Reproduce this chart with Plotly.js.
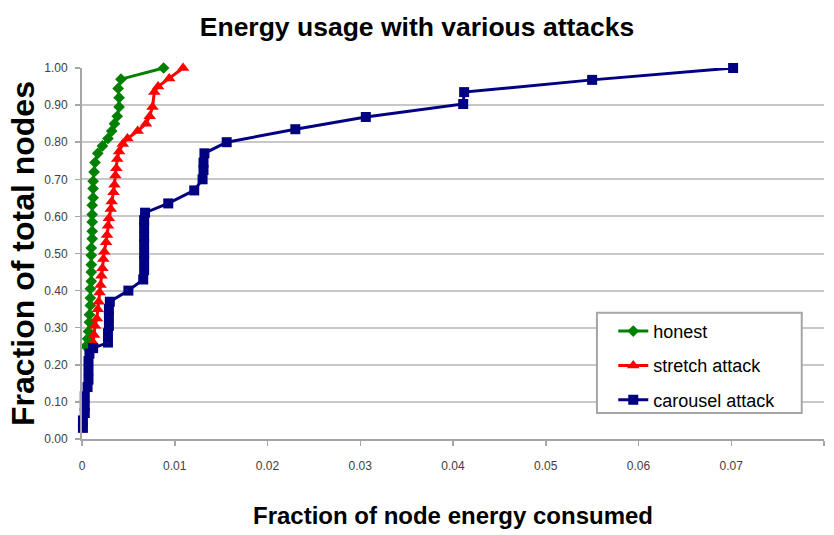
<!DOCTYPE html>
<html>
<head>
<meta charset="utf-8">
<script src="https://cdn.plot.ly/plotly-3.0.1.min.js"></script>
<style>html,body{margin:0;padding:0;background:#fff;}#chart{width:834px;height:535px;}</style>
</head>
<body>
<div id="chart"></div>
<script>
// honest (green diamonds)
var honestX = [0.0004,0.0006,0.0007,0.0008,0.0008,0.0009,0.0009,0.0009,0.0010,0.0010,0.0010,0.0010,0.0010,0.0011,0.0011,0.0011,0.0011,0.0011,0.0012,0.0012,0.0012,0.0013,0.0014,0.0017,0.0022,0.0028,0.0032,0.0035,0.0038,0.0040,0.0040,0.0039,0.0042,0.0088];
var honestY = [0.25,0.27,0.29,0.315,0.335,0.36,0.38,0.405,0.425,0.45,0.47,0.495,0.515,0.54,0.56,0.585,0.605,0.63,0.65,0.675,0.695,0.72,0.745,0.77,0.79,0.81,0.83,0.85,0.87,0.895,0.92,0.945,0.97,1.0];
// stretch attack (red triangles)
var stretchX = [0.0012,0.0013,0.0014,0.0016,0.0017,0.0018,0.0019,0.0020,0.0021,0.0022,0.0023,0.0024,0.0026,0.0027,0.0028,0.0029,0.0031,0.0032,0.0034,0.0035,0.0036,0.0037,0.0038,0.0040,0.0044,0.0049,0.0060,0.0069,0.0073,0.0076,0.0078,0.0082,0.0094,0.0109];
var stretchY = [0.26,0.28,0.305,0.325,0.35,0.37,0.395,0.415,0.44,0.46,0.485,0.505,0.53,0.55,0.575,0.595,0.62,0.64,0.665,0.685,0.71,0.73,0.755,0.775,0.795,0.81,0.83,0.85,0.87,0.895,0.935,0.95,0.972,1.0];
// carousel attack (blue squares)
var carouselX = [0.0001,0.0001,0.0003,0.0003,0.0003,0.0006,0.0007,0.0007,0.0007,0.0008,0.0012,0.0028,0.0028,0.0029,0.0029,0.0029,0.0030,0.0050,0.0066,0.0067,0.0067,0.0067,0.0067,0.0067,0.0067,0.0067,0.0068,0.0093,0.0121,0.0130,0.0131,0.0131,0.0132,0.0156,0.0230,0.0306,0.0411,0.0412,0.0550,0.0702];
var carouselY = [0.03,0.05,0.07,0.09,0.115,0.14,0.16,0.185,0.21,0.23,0.245,0.26,0.285,0.305,0.33,0.35,0.37,0.40,0.43,0.455,0.48,0.50,0.525,0.545,0.57,0.59,0.61,0.635,0.67,0.70,0.725,0.745,0.77,0.80,0.835,0.868,0.903,0.935,0.968,1.0];

var seriesNames = ['honest','stretch attack','carousel attack'];
var xTicks = [0,0.01,0.02,0.03,0.04,0.05,0.06,0.07,0.08];
var xTickLabels = ['0','0.01','0.02','0.03','0.04','0.05','0.06','0.07','0.08'];
var yTicks = [0,0.1,0.2,0.3,0.4,0.5,0.6,0.7,0.8,0.9,1.0];
var yTickLabels = ['0.00','0.10','0.20','0.30','0.40','0.50','0.60','0.70','0.80','0.90','1.00'];

var sans = '"Liberation Sans", Arial, sans-serif';

var traces = [
  {x: honestX, y: honestY, name: seriesNames[0], type: 'scatter', mode: 'lines+markers', legendgroup: 'a', cliponaxis: false,
   line: {color: '#008000', width: 3}, marker: {symbol: 'diamond', size: 9, color: '#008000'}},
  {x: stretchX, y: stretchY, name: seriesNames[1], type: 'scatter', mode: 'lines+markers', legendgroup: 'b', cliponaxis: false,
   line: {color: '#ff0000', width: 3}, marker: {symbol: 'triangle-up', size: 11, color: '#ff0000'}},
  {x: carouselX, y: carouselY, name: seriesNames[2], type: 'scatter', mode: 'lines+markers', legendgroup: 'c', cliponaxis: false,
   line: {color: '#000080', width: 3}, marker: {symbol: 'square', size: 10, color: '#000080'}}
];

var layout = {
  width: 834, height: 535,
  margin: {l: 82, r: 10, t: 68, b: 96},
  paper_bgcolor: '#ffffff', plot_bgcolor: '#ffffff',
  showlegend: true,
  title: {text: '<b>Energy usage with various attacks</b>', font: {family: sans, size: 26.5, color: '#000'}, x: 0.5, xanchor: 'center', y: 0.95, yanchor: 'middle'},
  xaxis: {
    range: [0, 0.08], tickvals: xTicks, ticktext: xTickLabels,
    showgrid: false, zeroline: false, showline: true, linecolor: '#a6a6a6', linewidth: 2,
    ticks: 'outside', ticklen: 5, tickwidth: 1.5, tickcolor: '#a6a6a6', ticklabelstandoff: 10,
    tickfont: {family: sans, size: 12, color: '#404040'},
    title: {text: '<b>Fraction of node energy consumed</b>', font: {family: sans, size: 24, color: '#000'}, standoff: 35}
  },
  yaxis: {
    range: [0, 1], tickvals: yTicks, ticktext: yTickLabels,
    showgrid: true, gridcolor: '#c8c8c8', gridwidth: 2, zeroline: false,
    showline: true, linecolor: '#a6a6a6', linewidth: 2,
    ticks: 'outside', ticklen: 5, tickwidth: 1.5, tickcolor: '#a6a6a6', ticklabelstandoff: 5,
    tickfont: {family: sans, size: 12, color: '#404040'},
    title: {text: '<b>Fraction of total nodes</b>', font: {family: sans, size: 32, color: '#000'}, standoff: 0}
  },
  legend: {
    x: 0.716, y: 0.34, xanchor: 'left', yanchor: 'top',
    bgcolor: 'rgba(0,0,0,0)', borderwidth: 0, tracegroupgap: 8,
    font: {family: sans, size: 18, color: '#000'}
  },
  shapes: [
    {type: 'rect', xref: 'paper', yref: 'paper', x0: 0.694, x1: 0.970, y0: 0.070, y1: 0.340,
     fillcolor: '#ffffff', line: {color: '#a6a6a6', width: 2}, layer: 'above'}
  ]
};

Plotly.newPlot('chart', traces, layout, {displayModeBar: false, staticPlot: true});
</script>
</body>
</html>
